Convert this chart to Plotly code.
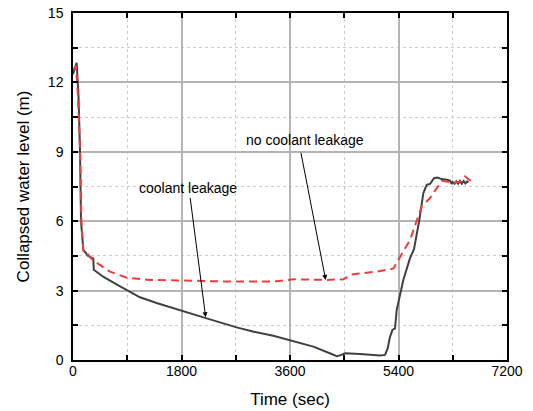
import plotly.graph_objects as go

# Coolant leakage (solid dark line)
t_leak = [0, 30, 60, 90, 116, 133, 171, 250, 337, 345, 500, 700, 890, 1111, 1400, 1803,
          2217, 2715, 3000, 3323, 3490, 3987, 4300, 4380, 4450, 4512, 4761, 5000, 5093,
          5176, 5220, 5259, 5300, 5342, 5370, 5480, 5591, 5657, 5746, 5812, 5868, 5923,
          5989, 6044, 6117, 6200, 6255, 6283, 6300, 6330, 6360, 6390, 6420, 6450, 6480,
          6510, 6540, 6560]
h_leak = [12.35, 12.6, 12.85, 11.5, 9.1, 6.0, 4.76, 4.5, 4.38, 3.9, 3.6, 3.3, 3.03, 2.71,
          2.45, 2.12, 1.80, 1.41, 1.22, 1.05, 0.94, 0.58, 0.25, 0.16, 0.22, 0.29, 0.26,
          0.22, 0.19, 0.22, 0.5, 1.0, 1.3, 1.37, 2.16, 3.46, 4.40, 4.79, 6.06, 7.21, 7.57,
          7.61, 7.86, 7.89, 7.82, 7.79, 7.75, 7.61, 7.7, 7.62, 7.72, 7.62, 7.74, 7.62,
          7.74, 7.63, 7.72, 7.67]

# No coolant leakage (red dashed line)
t_noleak = [0, 50, 80, 116, 140, 171, 227, 337, 614, 890, 1278, 1996, 2660, 3379, 3655,
            4209, 4485, 4651, 5039, 5314, 5425, 5591, 5785, 5923, 5978, 6117, 6200, 6283,
            6421, 6504, 6587, 6670]
h_noleak = [12.55, 12.7, 11.5, 9.1, 6.0, 4.69, 4.62, 4.30, 3.82, 3.56, 3.46, 3.43, 3.39,
            3.40, 3.49, 3.46, 3.49, 3.71, 3.82, 3.95, 4.47, 5.19, 6.64, 7.0, 7.21, 7.75,
            7.72, 7.62, 7.72, 7.94, 7.76, 7.65]

x_ticks = [0, 1800, 3600, 5400, 7200]
y_ticks = [0, 3, 6, 9, 12, 15]

fig = go.Figure()
fig.add_trace(go.Scatter(x=t_leak, y=h_leak, mode="lines",
                         line=dict(color="#404040", width=2), name="coolant leakage"))
fig.add_trace(go.Scatter(x=t_noleak, y=h_noleak, mode="lines",
                         line=dict(color="#f03c3c", width=2, dash="8px,5px"),
                         name="no coolant leakage"))

font = "Liberation Sans, Arial, sans-serif"
axis_common = dict(
    showline=True, linecolor="black", linewidth=1.5, mirror="ticks",
    ticks="inside", ticklen=5, tickcolor="black", tickwidth=1.5,
    showgrid=True, gridcolor="#b4b4b4", gridwidth=1.5,
    zeroline=False, automargin=False, ticklabeloverflow="allow",
    tickfont=dict(family=font, size=14, color="black"),
)

fig.update_xaxes(range=[0, 7200], tickvals=x_ticks, ticklabelstandoff=-3,
                 minor=dict(dtick=900, ticks="inside", ticklen=5, tickcolor="black",
                            showgrid=True, gridcolor="#cccccc", griddash="dot", gridwidth=1),
                 title=dict(text="Time (sec)", font=dict(family=font, size=17, color="black"),
                            standoff=16),
                 **axis_common)
fig.update_yaxes(range=[0, 15], tickvals=y_ticks, ticklabelstandoff=5,
                 minor=dict(dtick=1.5, ticks="inside", ticklen=5, tickcolor="black",
                            showgrid=True, gridcolor="#cccccc", griddash="dot", gridwidth=1),
                 title=dict(text="Collapsed water level (m)",
                            font=dict(family=font, size=17, color="black"), standoff=14),
                 **axis_common)

fig.add_annotation(x=4192, y=3.46, ax=3777, ay=9.02, xref="x", yref="y", axref="x", ayref="y",
                   text="", showarrow=True, arrowhead=2, arrowsize=1, arrowwidth=1,
                   arrowcolor="black")
fig.add_annotation(x=3849, y=9.49, xref="x", yref="y", text="no coolant leakage",
                   showarrow=False, font=dict(family=font, size=14, color="black"))
fig.add_annotation(x=2201, y=1.85, ax=1941, ay=7.07, xref="x", yref="y", axref="x", ayref="y",
                   text="", showarrow=True, arrowhead=2, arrowsize=1, arrowwidth=1,
                   arrowcolor="black")
fig.add_annotation(x=1913, y=7.43, xref="x", yref="y", text="coolant leakage",
                   showarrow=False, font=dict(family=font, size=14, color="black"))

# page body has an 8px default margin, so the figure is sized to fit the visible window
fig.update_layout(width=525, height=403, showlegend=False,
                  margin=dict(l=65, r=26, t=5, b=51),
                  plot_bgcolor="white", paper_bgcolor="white")

fig.write_html("out.html")
